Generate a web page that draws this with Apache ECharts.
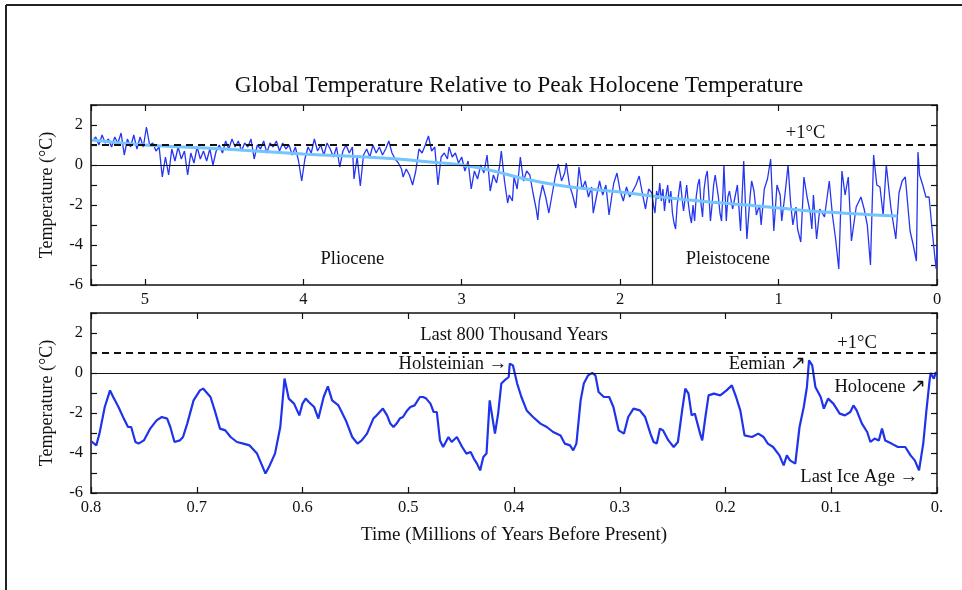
<!DOCTYPE html>
<html>
<head>
<meta charset="utf-8">
<script src="https://cdn.jsdelivr.net/npm/echarts@6/dist/echarts.min.js"></script>
<style>
html,body{margin:0;padding:0;background:#fff;}
#chart{width:962px;height:590px;}
</style>
</head>
<body>
<div id="chart"></div>
<script>
// ---- Top panel: last 5.33 Myr (age in Myr, temperature in °C) ----
const pliocene = [
[5.33,1.2],[5.31,1.4],[5.29,1.0],[5.27,1.5],[5.25,1.1],[5.23,1.3],[5.21,0.9],[5.19,1.4],[5.17,1.1],[5.15,1.6],
[5.13,0.5],[5.11,1.3],[5.09,0.9],[5.07,1.5],[5.05,0.8],[5.03,1.4],[5.01,0.9],[4.99,1.9],[4.97,1.0],[4.95,1.1],
[4.93,0.7],[4.91,0.9],[4.89,-0.6],[4.87,0.4],[4.85,-0.5],[4.83,0.8],[4.81,0.2],[4.79,0.9],[4.77,0.3],[4.75,0.7],
[4.73,-0.5],[4.71,0.6],[4.69,0.1],[4.67,0.9],[4.65,0.3],[4.63,0.7],[4.61,0.2],[4.59,0.8],[4.57,0.0],[4.55,0.7],
[4.53,1.0],[4.51,0.6],[4.49,1.2],[4.47,0.8],[4.45,1.3],[4.43,0.9],[4.41,1.2],[4.39,0.7],[4.37,1.1],[4.35,0.9],
[4.33,1.3],[4.31,0.3],[4.29,1.0],[4.27,0.8],[4.25,1.2],[4.23,0.6],[4.21,1.1],[4.19,0.9],[4.17,1.2],[4.15,0.7],
[4.13,1.1],[4.11,0.8],[4.09,1.0],[4.07,0.5],[4.05,0.9],[4.03,0.2],[4.01,-0.8],[3.99,0.3],[3.97,0.9],[3.95,0.6],
[3.93,1.3],[3.91,0.7],[3.89,1.0],[3.87,0.5],[3.85,1.1],[3.83,0.8],[3.81,0.4],[3.79,0.9],[3.77,-0.1],[3.75,0.7],
[3.73,1.0],[3.71,0.6],[3.69,0.9],[3.68,-0.7],[3.66,0.4],[3.64,-1.05],[3.62,0.5],[3.60,0.8],[3.58,0.4],[3.56,1.0],
[3.54,0.6],[3.52,0.9],[3.50,0.5],[3.48,0.8],[3.46,1.2],[3.44,0.6],[3.42,0.3],[3.40,0.1],[3.38,-0.2],[3.37,-0.6],
[3.35,-0.2],[3.33,-0.5],[3.31,-1.0],[3.29,-0.3],[3.27,0.8],[3.25,0.6],[3.23,1.0],[3.21,1.45],[3.19,0.7],[3.17,0.9],
[3.15,-1.0],[3.13,0.4],[3.11,0.6],[3.09,0.3],[3.08,0.9],[3.06,0.4],[3.04,0.6],[3.02,0.1],[3.00,0.4],[2.98,-0.3],
[2.96,0.2],[2.94,-1.2],[2.92,-0.3],[2.90,-0.7],[2.88,0.0],[2.86,-0.4],[2.84,0.5],[2.82,-1.3],[2.80,-0.5],[2.78,-0.9],
[2.76,0.0],[2.75,0.7],[2.73,-0.8],[2.71,-1.9],[2.70,-1.5],[2.68,-1.8],[2.67,-0.6],[2.65,-1.2],[2.63,0.4],[2.61,-0.8],
[2.59,-0.3],[2.57,-0.5],[2.55,-1.4],[2.53,-2.2],[2.52,-2.75],[2.51,-1.8],[2.49,-1.0],[2.47,-1.6],[2.45,-2.4],[2.43,-1.5],
[2.41,-0.6],[2.39,0.05],[2.37,-0.8],[2.35,-0.4],[2.34,0.1],[2.32,-1.0],[2.30,-1.5],[2.28,-2.15],[2.26,-0.1],[2.24,-1.2],
[2.22,-0.8],[2.20,-1.6],[2.18,-1.1],[2.17,-2.4],[2.15,-1.6],[2.13,-0.8],[2.11,-1.5],[2.09,-1.0],[2.07,-2.5],[2.05,-1.4],
[2.04,-0.9],[2.02,-0.4],[2.00,-1.3],[1.98,-1.8],[1.96,-1.1],[1.94,-1.6],[1.92,-1.3],[1.90,-1.0],[1.88,-0.55],[1.86,-1.4],
[1.84,-2.2],[1.82,-1.2]
];
const pleistocene = [
[1.80,-1.4],[1.79,-2.0],[1.78,-2.4],[1.77,-1.3],[1.76,-1.7],[1.75,-0.9],[1.74,-1.8],[1.73,-1.2],[1.72,-2.3],[1.71,-1.5],
[1.70,-1.0],[1.69,-1.9],[1.68,-1.3],[1.67,-2.4],[1.66,-2.9],[1.65,-3.2],[1.64,-2.0],[1.63,-1.4],[1.62,-0.8],[1.61,-1.6],
[1.60,-2.3],[1.59,-1.7],[1.58,-1.0],[1.57,-1.9],[1.56,-2.5],[1.55,-2.9],[1.54,-2.0],[1.53,-2.8],[1.52,-1.6],[1.51,-1.0],
[1.50,-0.7],[1.49,-1.9],[1.48,-2.6],[1.47,-1.2],[1.46,-0.6],[1.45,-0.3],[1.44,-1.5],[1.43,-2.8],[1.42,-2.0],[1.41,-1.0],
[1.40,-0.5],[1.39,-0.4],[1.38,-1.6],[1.37,-2.4],[1.36,-2.8],[1.35,-1.2],[1.345,0.0],[1.33,-2.8],[1.32,-1.6],[1.31,-1.3],
[1.29,-2.2],[1.28,-1.8],[1.26,-1.0],[1.24,-3.3],[1.22,0.2],[1.21,-1.8],[1.20,-3.7],[1.18,-1.6],[1.17,-0.8],[1.155,-1.3],
[1.14,-2.5],[1.12,-2.0],[1.11,-3.0],[1.09,-1.2],[1.07,-0.7],[1.05,0.3],[1.03,-3.3],[1.01,-1.0],[0.99,-1.5],[0.98,-2.8],
[0.96,-1.5],[0.94,0.0],[0.925,-1.8],[0.91,-3.0],[0.89,-2.1],[0.88,-3.2],[0.86,-3.85],[0.84,-0.6],[0.82,-1.6],[0.80,-2.4],
[0.79,-3.2],[0.78,-1.5],[0.76,-3.7],[0.74,-2.2],[0.71,-2.6],[0.68,-0.8],[0.66,-2.5],[0.64,-3.7],[0.62,-5.2],[0.60,-0.3],
[0.58,-1.5],[0.56,-0.6],[0.54,-3.8],[0.51,-2.1],[0.48,-1.6],[0.46,-2.2],[0.44,-3.0],[0.42,-5.0],[0.40,0.5],[0.38,-1.0],
[0.36,-1.1],[0.34,-2.5],[0.32,0.0],[0.30,-1.5],[0.29,-2.2],[0.26,-3.7],[0.24,-1.4],[0.22,-0.8],[0.20,-0.6],[0.17,-3.3],
[0.15,-4.0],[0.13,-4.8],[0.12,0.65],[0.11,-0.5],[0.09,-1.0],[0.07,-1.6],[0.05,-1.6],[0.03,-3.3],[0.015,-4.5],[0.005,-5.2],
[0.0,-4.0]
];
const trend = [
[5.33,1.25],[5.0,1.0],[4.5,0.8],[4.0,0.55],[3.5,0.35],[3.2,0.15],[3.0,0.0],[2.8,-0.3],[2.6,-0.7],[2.4,-1.0],
[2.2,-1.2],[2.0,-1.35],[1.8,-1.55],[1.5,-1.8],[1.2,-2.0],[1.0,-2.15],[0.8,-2.3],[0.6,-2.4],[0.4,-2.5],[0.25,-2.55]
];
// ---- Bottom panel: last 800 thousand years ----
const last800k = [
[0.800,-3.4],[0.799,-3.37],[0.795,-3.62],[0.792,-3.03],[0.787,-1.7],[0.782,-0.87],[0.779,-1.2],[0.774,-1.7],[0.769,-2.28],[0.765,-2.7],
[0.762,-2.7],[0.758,-3.45],[0.755,-3.53],[0.750,-3.37],[0.744,-2.78],[0.738,-2.37],[0.733,-2.2],[0.728,-2.28],[0.725,-2.7],[0.721,-3.45],
[0.716,-3.37],[0.713,-3.2],[0.709,-2.53],[0.703,-1.37],[0.697,-0.87],[0.694,-0.78],[0.687,-1.2],[0.683,-1.87],[0.678,-2.78],[0.673,-2.87],
[0.668,-3.2],[0.662,-3.45],[0.656,-3.53],[0.650,-3.62],[0.643,-4.03],[0.639,-4.53],[0.635,-5.03],[0.631,-4.62],[0.626,-4.03],[0.621,-2.7],
[0.617,-0.28],[0.613,-1.28],[0.608,-1.53],[0.603,-2.12],[0.600,-1.53],[0.597,-1.28],[0.594,-1.45],[0.589,-1.7],[0.585,-2.28],[0.580,-1.2],
[0.576,-0.67],[0.572,-1.37],[0.566,-1.62],[0.559,-2.37],[0.553,-3.2],[0.548,-3.53],[0.544,-3.37],[0.539,-3.03],[0.533,-2.28],[0.530,-2.12],
[0.527,-1.95],[0.524,-1.78],[0.520,-2.12],[0.517,-2.53],[0.514,-2.7],[0.511,-2.53],[0.508,-2.28],[0.505,-2.2],[0.501,-1.87],[0.498,-1.7],
[0.494,-1.62],[0.489,-1.2],[0.486,-1.2],[0.483,-1.28],[0.479,-1.53],[0.476,-1.95],[0.473,-1.95],[0.470,-3.37],[0.467,-3.7],[0.462,-3.2],
[0.459,-3.45],[0.454,-3.2],[0.449,-3.7],[0.445,-4.03],[0.441,-3.95],[0.438,-4.28],[0.435,-4.53],[0.432,-4.87],[0.429,-4.2],[0.426,-4.03],
[0.423,-1.37],[0.421,-2.03],[0.418,-3.03],[0.415,-2.03],[0.412,-0.53],[0.409,-0.37],[0.405,-0.2],[0.404,0.47],[0.401,0.38],[0.397,-0.53],
[0.393,-1.2],[0.388,-1.87],[0.382,-2.2],[0.375,-2.53],[0.369,-2.7],[0.363,-2.95],[0.356,-3.12],[0.352,-3.53],[0.347,-3.62],[0.344,-3.87],
[0.341,-3.53],[0.337,-1.37],[0.334,-0.53],[0.330,-0.12],[0.326,0.0],[0.323,-0.12],[0.320,-0.95],[0.315,-1.2],[0.310,-1.2],[0.306,-1.7],
[0.301,-2.87],[0.296,-3.03],[0.292,-2.2],[0.287,-1.78],[0.281,-1.87],[0.276,-2.2],[0.271,-3.03],[0.268,-3.45],[0.265,-3.53],[0.262,-2.78],
[0.259,-2.87],[0.254,-3.37],[0.249,-3.7],[0.245,-3.45],[0.241,-1.87],[0.238,-0.78],[0.235,-1.03],[0.232,-2.12],[0.229,-2.03],[0.224,-3.03],
[0.222,-3.37],[0.219,-2.2],[0.216,-1.12],[0.211,-1.03],[0.205,-1.12],[0.199,-0.87],[0.194,-0.62],[0.190,-1.2],[0.186,-1.87],[0.182,-3.12],
[0.175,-3.2],[0.169,-3.03],[0.164,-3.2],[0.160,-3.53],[0.155,-3.7],[0.149,-4.12],[0.145,-4.62],[0.142,-4.12],[0.139,-4.37],[0.134,-4.53],
[0.130,-2.7],[0.126,-1.7],[0.123,-0.7],[0.121,0.63],[0.118,0.38],[0.115,-0.7],[0.110,-1.2],[0.107,-1.78],[0.103,-1.28],[0.098,-1.53],
[0.092,-2.03],[0.087,-2.12],[0.082,-1.95],[0.079,-1.62],[0.076,-1.87],[0.071,-2.53],[0.066,-2.95],[0.063,-3.45],[0.059,-3.28],[0.055,-3.37],
[0.052,-2.78],[0.049,-3.37],[0.043,-3.53],[0.037,-3.7],[0.030,-3.7],[0.025,-4.12],[0.021,-4.37],[0.017,-4.87],[0.013,-3.53],[0.010,-1.87],
[0.007,-0.37],[0.006,0.0],[0.003,-0.28],[0.001,0.05],[0.0,-0.12]
];
const topXTicks = [5, 4, 3, 2, 1, 0];
const bottomXTicks = ['0.8','0.7','0.6','0.5','0.4','0.3','0.2','0.1','0.'];
const yTickLabels = ['-6','-4','-2','0','2'];

const FONT = 'Liberation Serif';
const BLACK = '#111';
const chart = echarts.init(document.getElementById('chart'), null, {renderer:'canvas'});

function xAxisCfg(grid, max, interval, pos, showLabel, fmt){
  return {
    gridIndex: grid, type:'value', min:0, max:max, interval:interval, inverse:true, position:pos,
    axisLine:{show:true, onZero:false, lineStyle:{color:BLACK, width:1.5}},
    axisTick:{show:true, inside:true, length:6, lineStyle:{color:BLACK, width:1.2}},
    axisLabel:{show:showLabel, color:BLACK, fontFamily:FONT, fontSize:16.5, margin:6, formatter:fmt, showMaxLabel:true, showMinLabel:true},
    splitLine:{show:false}
  };
}
function yAxisCfg(grid, pos, showLabel, name){
  return {
    gridIndex: grid, type:'value', min:-6, max:3, interval:1, position:pos,
    name: name || '', nameLocation:'middle', nameGap:35,
    nameTextStyle:{color:BLACK, fontFamily:FONT, fontSize:18},
    axisLine:{show:true, onZero:false, lineStyle:{color:BLACK, width:1.5}},
    axisTick:{show:true, inside:true, length:6, lineStyle:{color:BLACK, width:1.2}},
    axisLabel:{show:showLabel, color:BLACK, fontFamily:FONT, fontSize:16.5, margin:8,
      formatter: v => { const s = String(Math.round(v)); return yTickLabels.indexOf(s) >= 0 && Math.abs(v - Math.round(v)) < 1e-6 ? s : ''; }},
    splitLine:{show:false}
  };
}
const topFmt = v => { const r = Math.round(v); return (Math.abs(v - r) < 1e-6 && topXTicks.indexOf(r) >= 0) ? String(r) : ''; };
const botFmt = v => { const i = Math.round((0.8 - v) * 10); return (i >= 0 && i < bottomXTicks.length && Math.abs((0.8 - v) * 10 - i) < 1e-6) ? bottomXTicks[i] : ''; };

function annot(coord, text, pos){
  return {coord: coord, symbol:'circle', symbolSize:0, value:text,
    label:{show:true, formatter:text, position:pos, distance:0, color:BLACK, fontFamily:FONT, fontSize:18.5}};
}
const hLine = (y, type, w) => ({yAxis:y, lineStyle:{color:BLACK, type:type, width:w}});

const option = {
  backgroundColor:'#fff',
  animation:false,
  title:{text:'Global Temperature Relative to Peak Holocene Temperature', left:514, textAlign:'center', top:69,
    textStyle:{color:BLACK, fontFamily:FONT, fontSize:23.5, fontWeight:'normal'}},
  grid:[{left:91, right:25, top:105, height:180}, {left:91, right:25, top:313, height:180}],
  xAxis:[
    xAxisCfg(0, 5.34, 1, 'bottom', true, topFmt),
    xAxisCfg(0, 5.34, 1, 'top', false, topFmt),
    Object.assign(xAxisCfg(1, 0.8, 0.1, 'bottom', true, botFmt), {
      name:'Time (Millions of Years Before Present)', nameLocation:'middle', nameGap:33,
      nameTextStyle:{color:BLACK, fontFamily:FONT, fontSize:19}}),
    xAxisCfg(1, 0.8, 0.1, 'top', false, botFmt)
  ],
  yAxis:[
    yAxisCfg(0, 'left', true, 'Temperature (°C)'),
    yAxisCfg(0, 'right', false),
    yAxisCfg(1, 'left', true, 'Temperature (°C)'),
    yAxisCfg(1, 'right', false)
  ],
  graphic:[
    {type:'line', shape:{x1:6, y1:5, x2:6, y2:590}, style:{stroke:'#222', lineWidth:2}, silent:true},
    {type:'line', shape:{x1:6, y1:5, x2:962, y2:5}, style:{stroke:'#222', lineWidth:2}, silent:true}
  ],
  series:[
    {
      type:'line', xAxisIndex:0, yAxisIndex:0, data: pliocene.concat(pleistocene),
      showSymbol:false, symbol:'none', lineStyle:{color:'#2536f0', width:1.3}, z:3,
      markLine:{silent:true, symbol:'none', label:{show:false},
        data:[ hLine(0,'solid',1.2), hLine(1,[7,5],2),
          [{coord:[1.8,-6], lineStyle:{color:BLACK, width:1.2, type:'solid'}}, {coord:[1.8,0]}] ]},
      markPoint:{silent:true, data:[
        annot([0.83,1.6], '+1°C', 'inside'),
        annot([3.69,-4.7], 'Pliocene', 'inside'),
        annot([1.32,-4.7], 'Pleistocene', 'inside')
      ]}
    },
    {
      type:'line', xAxisIndex:0, yAxisIndex:0, data: trend, smooth:true,
      showSymbol:false, symbol:'none', lineStyle:{color:'#74c4ff', width:3}, z:4
    },
    {
      type:'line', xAxisIndex:2, yAxisIndex:2, data: last800k,
      showSymbol:false, symbol:'none', lineStyle:{color:'#1e33ea', width:2.2}, z:3,
      markLine:{silent:true, symbol:'none', label:{show:false}, data:[ hLine(0,'solid',1.2), hLine(1,[7,5],2) ]},
      markPoint:{silent:true, data:[
        annot([0.400,1.9], 'Last 800 Thousand Years', 'inside'),
        annot([0.0756,1.5], '+1°C', 'inside'),
        annot([0.4066,0.45], 'Holsteinian →', 'left'),
        annot([0.124,0.45], 'Eemian ↗', 'left'),
        annot([0.0104,-0.7], 'Holocene ↗', 'left'),
        annot([0.018,-5.2], 'Last Ice Age →', 'left')
      ]}
    }
  ]
};
chart.setOption(option);
</script>
</body>
</html>
